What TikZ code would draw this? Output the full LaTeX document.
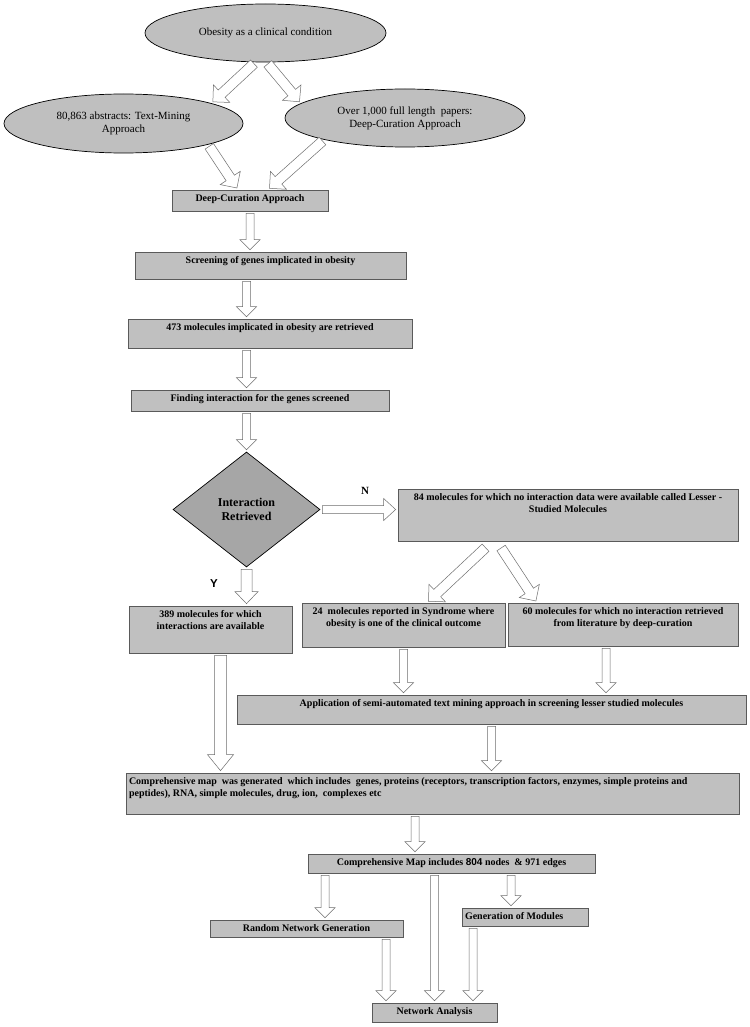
\documentclass[tikz,border=0pt]{standalone}
\usepackage{fontspec}
\setmainfont{Liberation Serif}
\newfontfamily\arialfont{Liberation Sans}
\usepackage{tikz}
\usetikzlibrary{calc,shapes.geometric}
\definecolor{cBox}{HTML}{C0C0C0}
\definecolor{cEll}{HTML}{BFBFBF}
\definecolor{cDia}{HTML}{A6A6A6}
\definecolor{cEdge}{HTML}{5A5A5A}
\definecolor{cArr}{HTML}{6E6E6E}
\tikzset{
  flowbox/.style={draw=cEdge, line width=0.7pt, fill=cBox, inner xsep=3pt, inner ysep=2pt,
                  font=\fontsize{10}{11.5}\selectfont\bfseries},
  ell/.style={ellipse, draw=black, line width=0.7pt, fill=cEll, inner sep=0pt, align=center,
              font=\fontsize{11}{13}\selectfont},
  diabox/.style={diamond, draw=black, line width=0.7pt, fill=cDia, inner sep=0pt, align=center,
                 font=\fontsize{12}{14.5}\selectfont\bfseries},
  fatarr/.style={draw=cArr, fill=white, line width=0.5pt, line join=miter},
  yn/.style={font=\fontsize{11}{13}\selectfont\bfseries}
}
% top-aligned box texts: width, height, text
\newcommand{\btxt}[3]{\parbox[t][#2][t]{#1}{\centering\rule{0pt}{9.5pt}#3}}
\newcommand{\ltxt}[3]{\parbox[t][#2][t]{#1}{\raggedright\rule{0pt}{9.5pt}#3}}
% hollow block arrow: tail, tip, shaft half-width, head half-width, head length
\newcommand{\fatarrow}[5]{%
  \coordinate (fa-t) at ($(#1)!2pt!(#2)$);
  \coordinate (fa-p) at ($(#2)!2pt!(#1)$);
  \coordinate (fa-h) at ($(fa-p)!#5!(fa-t)$);
  \draw[fatarr] ($(fa-t)!#3!90:(fa-p)$) -- ($(fa-h)!#3!90:(fa-p)$) -- ($(fa-h)!#4!90:(fa-p)$)
    -- (fa-p) -- ($(fa-h)!#4!-90:(fa-p)$) -- ($(fa-h)!#3!-90:(fa-p)$) -- ($(fa-t)!#3!-90:(fa-p)$) -- cycle;}
\newcommand{\farr}[2]{\fatarrow{#1}{#2}{4pt}{10pt}{10pt}}

\begin{document}
\begin{tikzpicture}[x=1pt, y=-1pt]
\path[use as bounding box, fill=white] (0,0) rectangle (749,1027);
% sources
\node[ell, minimum width=241pt, minimum height=58pt] (e1) at (265.5,33) {Obesity as a clinical condition};
\node[ell, minimum width=239pt, minimum height=59pt] (e2) at (123.5,123.5) {80,863 abstracts: Text-Mining\\Approach};
\node[ell, minimum width=240pt, minimum height=58pt] (e3) at (405,118) {Over 1,000 full length\ \ papers:\\Deep-Curation Approach};
% main column
\node[flowbox] (dc) at (250,200.5) {\btxt{150pt}{17pt}{Deep-Curation Approach}};
\node[flowbox] (scr) at (270.5,265.5) {\btxt{265pt}{23pt}{Screening of genes implicated in obesity}};
\node[flowbox] (mol) at (270,333.5) {\btxt{278pt}{25pt}{473 molecules implicated in obesity are retrieved}};
\node[flowbox] (find) at (260,400.5) {\btxt{252pt}{17pt}{Finding interaction for the genes screened}};
\node[diabox, minimum width=147pt, minimum height=115pt] (dia) at (246.5,509.5) {Interaction\\Retrieved};
\node[yn] (lblN) at (365,491) {N};
\node[yn, font=\arialfont\bfseries\fontsize{11.5}{13}\selectfont] (lblY) at (214,584) {Y};
% lesser studied branch
\node[flowbox] (less) at (568,515) {\btxt{334pt}{48pt}{84 molecules for which no interaction data were available called Lesser -\\Studied Molecules}};
\node[flowbox] (avail) at (210.5,629.5) {\btxt{157pt}{43pt}{389 molecules for which\\interactions are available}};
\node[flowbox] (synd) at (403.5,625) {\btxt{197pt}{40pt}{24\ \ molecules reported in Syndrome where\\obesity is one of the clinical outcome}};
\node[flowbox] (noint) at (623,624.5) {\btxt{224pt}{39pt}{60 molecules for which no interaction retrieved\\from literature by deep-curation}};
\node[flowbox] (semi) at (491.5,709.5) {\btxt{503pt}{25pt}{Application of semi-automated text mining approach in screening lesser studied molecules}};
% map and analysis
\node[flowbox] (cmap) at (432.5,793.5) {\ltxt{607pt}{37pt}{Comprehensive map\ \ was generated\ \ which includes\ \ genes, proteins (receptors, transcription factors, enzymes, simple proteins and\\peptides), RNA, simple molecules, drug, ion,\ \ complexes etc}};
\node[flowbox] (net) at (451.5,863.5) {\btxt{281pt}{15pt}{Comprehensive Map includes {\arialfont 804} nodes\ \ \& 971 edges}};
\node[flowbox] (rand) at (306.5,928.5) {\btxt{187pt}{13pt}{Random Network Generation}};
\node[flowbox] (mods) at (525,917) {\ltxt{120pt}{14pt}{Generation of Modules}};
\node[flowbox] (ana) at (434.5,1012.5) {\btxt{119pt}{15pt}{Network Analysis}};
% arrows, top
\coordinate (dcA) at ([xshift=-12pt]dc.north);
\coordinate (dcB) at ([xshift=18pt]dc.north);
\fatarrow{e1.251}{e2.13}{5pt}{12pt}{12pt}
\fatarrow{e1.272}{e3.172}{5pt}{12pt}{12pt}
\fatarrow{e2.-14}{dcA}{5pt}{12pt}{12pt}
\fatarrow{e3.195}{dcB}{5pt}{12pt}{12pt}
\farr{dc.south}{dc.south |- scr.north}
\farr{dia.north |- scr.south}{dia.north |- mol.north}
\farr{dia.north |- mol.south}{dia.north |- find.north}
\farr{dia.north |- find.south}{dia.north}
% decision
\fatarrow{dia.south}{dia.south |- avail.north}{5.5pt}{11.5pt}{12pt}
\fatarrow{dia.east}{dia.east -| less.west}{4pt}{11pt}{12pt}
\coordinate (lsA) at ([xshift=-81pt, yshift=-5pt]less.south);
\coordinate (lsB) at ([xshift=-68pt, yshift=-5pt]less.south);
\coordinate (syA) at ([xshift=23.5pt]synd.north);
\coordinate (noA) at ([xshift=-86pt]noint.north);
\fatarrow{lsA}{syA}{5pt}{12pt}{12pt}
\fatarrow{lsB}{noA}{5pt}{12pt}{12pt}
\coordinate (noB) at ([xshift=-17pt]noint.south);
\farr{synd.south}{synd.south |- semi.north}
\farr{noB}{noB |- semi.north}
\farr{semi.south}{semi.south |- cmap.north}
\coordinate (avB) at ([xshift=10pt]avail.south);
\fatarrow{avB}{avB |- cmap.north}{6pt}{13pt}{16pt}
% bottom
\coordinate (cmB) at ([xshift=-17.5pt]cmap.south);
\farr{cmB}{cmB |- net.north}
\coordinate (ntA) at ([xshift=-126.5pt]net.south);
\coordinate (ntB) at ([xshift=59.5pt]net.south);
\farr{ntA}{ntA |- rand.north}
\farr{ana.north |- net.south}{ana.north}
\farr{ntB}{ntB |- mods.north}
\coordinate (rdA) at ([xshift=79.5pt]rand.south);
\coordinate (mdA) at ([xshift=-52pt]mods.south);
\farr{rdA}{rdA |- ana.north}
\farr{mdA}{mdA |- ana.north}
\end{tikzpicture}
\end{document}
